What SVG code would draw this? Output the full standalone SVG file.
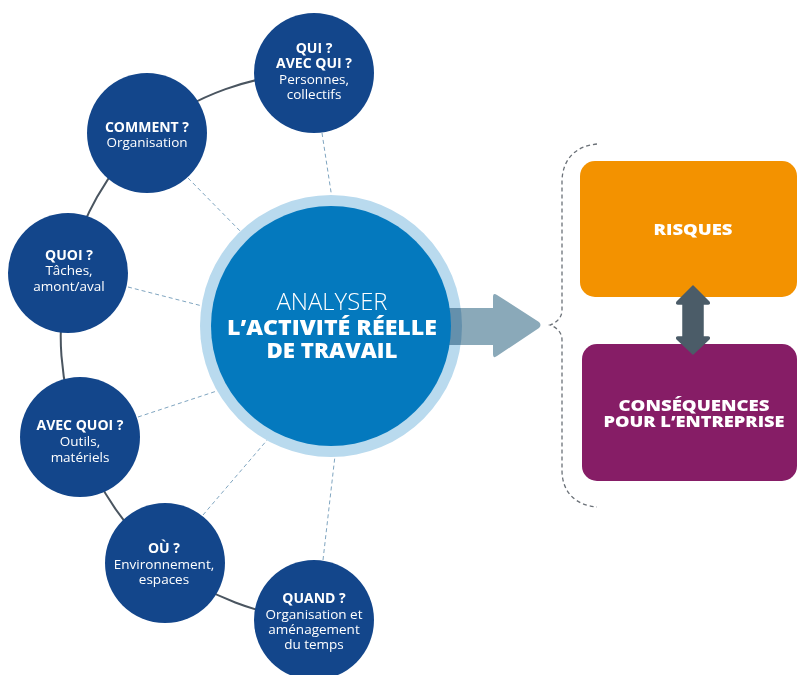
<svg xmlns="http://www.w3.org/2000/svg" width="798" height="675" viewBox="0 0 798 675">
  <defs>
    <style>
      .node { fill: #13468b; }
      .t { font-family: "Open Sans", "Liberation Sans", sans-serif; fill: #ffffff; text-anchor: middle; }
      .q { font-size: 14px; font-weight: 700; }
      .d { font-size: 13.5px; font-weight: 400; }
      .dash { stroke: #7fa5c0; stroke-width: 1; stroke-dasharray: 4 3; fill: none; }
      .arc { stroke: #4a5560; stroke-width: 2; fill: none; }
      .box { font-size: 16px; font-weight: 800; }
    </style>
  </defs>
  <rect width="798" height="675" fill="#ffffff"/>

  <g id="connectors">
    <path class="arc" d="M314,73 A275,275 0 0 0 147,133 A275,275 0 0 0 68,273 A275,275 0 0 0 80,437 A275,275 0 0 0 165,563 A275,275 0 0 0 314,620"/>
    <line class="dash" x1="322" y1="133" x2="333" y2="205"/>
    <line class="dash" x1="188" y1="178" x2="245" y2="236"/>
    <line class="dash" x1="128" y1="287" x2="214" y2="309"/>
    <line class="dash" x1="138" y1="417" x2="232" y2="386"/>
    <line class="dash" x1="203" y1="515" x2="274" y2="432"/>
    <line class="dash" x1="323" y1="560" x2="336" y2="447"/>
    <path d="M597,144 C575,146 562,160 562,182 L562,310 C562,318 556,323 550,325 C556,327 562,332 562,340 L562,470 C562,492 575,505 597,507" fill="none" stroke="#6b7178" stroke-width="1.3" stroke-dasharray="4 3"/>
  </g>

  <g id="center">
    <circle cx="331" cy="326" r="131" fill="#b9daee"/>
    <path d="M440,308 L493,308 L493,297 Q493,292 497,295 L539,322 Q542,325 539,328 L497,356 Q493,359 493,354 L493,345 L440,345 Z" fill="#8aa9b9" style="mix-blend-mode:multiply"/>
    <circle cx="331" cy="326" r="120" fill="#0479be"/>
    <text class="t" x="332" y="310" font-size="23.5" font-weight="300" textLength="111" lengthAdjust="spacingAndGlyphs">ANALYSER</text>
    <text class="t" x="332" y="335" font-size="21" font-weight="800" textLength="210" lengthAdjust="spacingAndGlyphs">L’ACTIVITÉ RÉELLE</text>
    <text class="t" x="332" y="358" font-size="21" font-weight="800" textLength="131" lengthAdjust="spacingAndGlyphs">DE TRAVAIL</text>
  </g>

  <g id="qui">
    <circle class="node" cx="314" cy="73" r="60"/>
    <text class="t q" x="314" y="53">QUI ?</text>
    <text class="t q" x="314" y="68">AVEC QUI ?</text>
    <text class="t d" x="314" y="84">Personnes,</text>
    <text class="t d" x="314" y="99">collectifs</text>
  </g>

  <g id="comment">
    <circle class="node" cx="147" cy="133" r="60"/>
    <text class="t q" x="147" y="132">COMMENT ?</text>
    <text class="t d" x="147" y="147">Organisation</text>
  </g>

  <g id="quoi">
    <circle class="node" cx="68" cy="273" r="60"/>
    <text class="t q" x="69" y="260">QUOI ?</text>
    <text class="t d" x="69" y="275">Tâches,</text>
    <text class="t d" x="69" y="291">amont/aval</text>
  </g>

  <g id="avecquoi">
    <circle class="node" cx="80" cy="437" r="60"/>
    <text class="t q" x="80" y="430">AVEC QUOI ?</text>
    <text class="t d" x="80" y="446">Outils,</text>
    <text class="t d" x="80" y="462">matériels</text>
  </g>

  <g id="ou">
    <circle class="node" cx="165" cy="563" r="60"/>
    <text class="t q" x="164" y="553">OÙ ?</text>
    <text class="t d" x="164" y="569">Environnement,</text>
    <text class="t d" x="164" y="584">espaces</text>
  </g>

  <g id="quand">
    <circle class="node" cx="314" cy="620" r="60"/>
    <text class="t q" x="314" y="603">QUAND ?</text>
    <text class="t d" x="314" y="619">Organisation et</text>
    <text class="t d" x="314" y="634">aménagement</text>
    <text class="t d" x="314" y="649">du temps</text>
  </g>

  <g id="risques">
    <rect x="580" y="161" width="217" height="136" rx="15" fill="#f39200"/>
    <text class="t box" x="693" y="235" textLength="79" lengthAdjust="spacingAndGlyphs">RISQUES</text>
  </g>

  <g id="consequences">
    <rect x="582" y="344" width="215" height="137" rx="15" fill="#861d66"/>
    <text class="t box" x="694" y="411" textLength="151" lengthAdjust="spacingAndGlyphs">CONSÉQUENCES</text>
    <text class="t box" x="694" y="427" textLength="181" lengthAdjust="spacingAndGlyphs">POUR L’ENTREPRISE</text>
  </g>

  <g id="double-arrow">
    <path d="M693,286 L709,302 Q710,304 708,304 L703,304 L703,337 L708,337 Q710,337 709,339 L693,354 L677,339 Q676,337 678,337 L683,337 L683,304 L678,304 Q676,304 677,302 Z" fill="#4b5c68" stroke="#4b5c68" stroke-width="1.5" stroke-linejoin="round"/>
  </g>
</svg>
